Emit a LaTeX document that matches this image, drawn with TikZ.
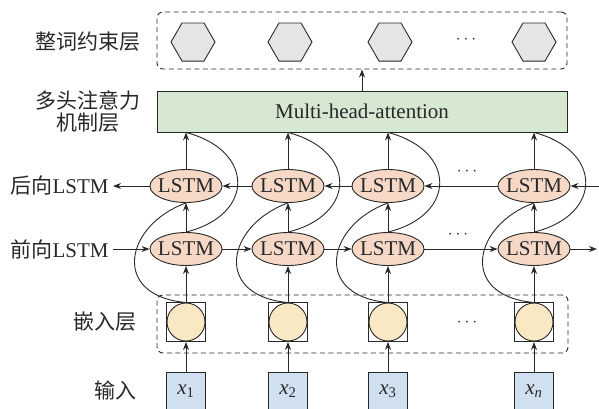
\documentclass[tikz,border=0pt]{standalone}
\usepackage{fontspec}
\setmainfont{Liberation Serif}
\newfontfamily\cjk{Noto Sans CJK SC}
\usetikzlibrary{shapes.geometric,arrows.meta}

\definecolor{lstmfill}{RGB}{246,216,198}
\definecolor{embfill}{RGB}{249,232,196}
\definecolor{inpfill}{RGB}{208,224,240}
\definecolor{attfill}{RGB}{214,232,210}
\definecolor{hexfill}{RGB}{229,229,231}
\definecolor{linecol}{RGB}{40,40,40}

\tikzset{
  arr/.style={-{Stealth[length=8pt,width=6pt]}},
  dashbox/.style={draw,dashed,dash pattern=on 5pt off 3.5pt,rounded corners=6pt,inner sep=0pt},
  lstm/.style={ellipse,draw,fill=lstmfill,minimum width=72pt,minimum height=33pt,inner sep=0pt},
  hexa/.style={regular polygon,regular polygon sides=6,draw,fill=hexfill,minimum size=44pt,inner sep=0pt},
  embsq/.style={rectangle,draw,minimum size=39pt,inner sep=0pt},
  embcirc/.style={circle,draw,fill=embfill,minimum size=38pt,inner sep=0pt},
  inbox/.style={rectangle,draw,fill=inpfill,minimum width=39pt,minimum height=39pt,inner sep=0pt},
  lbl/.style={anchor=east,inner sep=4pt},
  dots/.style={font=\fontsize{19}{19}\selectfont}
}

\begin{document}
\begin{tikzpicture}[x=1pt,y=1pt,yscale=-1,line width=0.9pt,color=linecol,font=\fontsize{21}{25}\selectfont]
	\useasboundingbox (0,0) rectangle (599,408);
	% boxes
	\node (topbox) [dashbox,minimum width=410pt,minimum height=57pt] at (362,40.5) {};
	\node (embbox) [dashbox,minimum width=411pt,minimum height=58pt] at (362.5,324) {};
	\node (att) [draw,fill=attfill,minimum width=410pt,minimum height=41pt,inner sep=0pt] at (362,111.5) {Multi-head-attention};
	\draw[arr] (att) -- (topbox);
	% columns
	\foreach \i/\x/\h/\s in {1/186/193/1,2/288/290/2,3/388/390/3,n/534/534/\textit{n}}{
		\node (h\i) [hexa] at (\h,42) {};
		\node (b\i) [lstm] at (\x,186) {\makebox[0pt]{LSTM}};
		\node (f\i) [lstm] at (\x,249) {\makebox[0pt]{LSTM}};
		\node (e\i) [embsq] at (\x,322) {};
		\node (c\i) [embcirc] at (\x,322) {};
		\node (in\i) [inbox] at (\x,391.5) {\textit{x}\textsubscript{\s}};
		\draw[arr] (in\i) -- (e\i);
		\draw[arr] (c\i) -- (f\i);
		\draw[arr] (f\i) -- (b\i);
		\draw[arr] (b\i.north) -- (b\i.north |- att.south);
		\draw (c\i.north) .. controls +(-76,-7) and +(-61,22) .. (b\i.south);
		\draw (f\i.north) .. controls +(69,-17) and +(69,18) .. (b\i.north |- att.south);
	}
	\foreach \a/\b in {1/2,2/3,3/n}{
		\draw[arr] (f\a) -- (f\b);
		\draw[arr] (b\b) -- (b\a);
	}
	\coordinate (fout) at (597,249);
	\coordinate (bin) at (600,186);
	\draw[arr] (fn) -- (fout);
	\draw[arr] (bin) -- (bn);
	% dots
	\node (dtop) [dots] at (466,40) {$\cdots$};
	\node (dbwd) [dots] at (467,172) {$\cdots$};
	\node (dfwd) [dots] at (458,235) {$\cdots$};
	\node (demb) [dots] at (467,323) {$\cdots$};
	% labels
	\node (lcon) at (88,42) {\cjk 整词约束层};
	\node (latt) [align=center,font=\fontsize{21}{22}\selectfont] at (88,112) {\cjk 多头注意力\\\cjk 机制层};
	\node (lbwd) [lbl] at (113,186) {{\cjk 后向}LSTM};
	\node (lfwd) [lbl] at (113,249) {{\cjk 前向}LSTM};
	\node (lemb) [lbl] at (141,322) {\cjk 嵌入层};
	\node (linp) [lbl] at (141,390) {\cjk 输入};
	\draw[arr] (b1) -- (lbwd);
	\draw[arr] (lfwd) -- (f1);
\end{tikzpicture}
\end{document}
